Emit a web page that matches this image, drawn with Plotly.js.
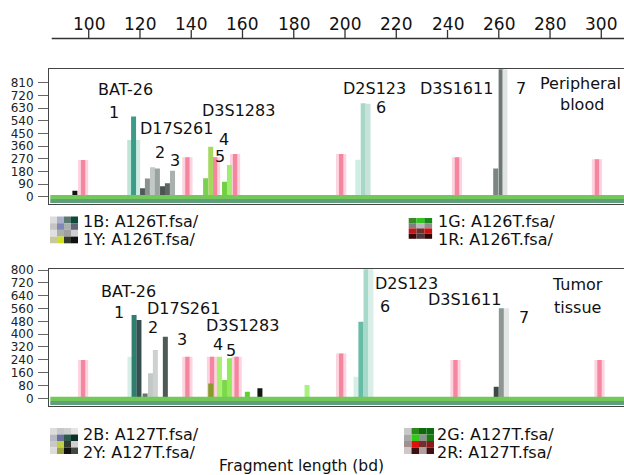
<!DOCTYPE html>
<html>
<head>
<meta charset="utf-8">
<script src="https://cdn.plot.ly/plotly-3.0.1.min.js"></script>
<style>html,body{margin:0;padding:0;background:#fff;}#chart{width:624px;height:475px;}</style>
</head>
<body>
<div id="chart"></div>
<script>
// ---------- data ----------
const topTicks = [100, 120, 140, 160, 180, 200, 220, 240, 260, 280, 300];
const yTicks1 = [0, 90, 180, 270, 360, 450, 540, 630, 720, 810];
const yTicks2 = [0, 80, 160, 240, 320, 400, 480, 560, 640, 720, 800];

// Panel 1: Peripheral blood (fragment length bp, height RFU)
const pinkBp1 = [97.8, 138.5, 149.3, 157.1, 198.5, 243.7, 298.3];
const pinkH1  = [261, 280, 280, 303, 303, 280, 266];
const tealLightBp1 = [116.0, 119.1, 205.0, 207.1, 209.0];
const tealLightH1  = [403, 403, 263, 664, 660];
const tealDarkBp1 = [117.5];
const tealDarkH1  = [569];
const grayBp1 = [121.0, 122.9, 124.9, 126.8, 128.8, 130.7, 132.7, 258.8, 260.9, 262.4];
const grayH1  = [60, 130, 210, 200, 75, 95, 185, 200, 950, 950];
const greenBp1 = [145.6, 147.6, 153.0, 154.9];
const greenH1  = [131, 355, 107, 225];
const blackBp1 = [94.6];
const blackH1  = [42];

// Panel 2: Tumor tissue
const pinkBp2 = [97.8, 138.5, 148.1, 157.7, 198.5, 243.1, 299.3];
const pinkH2  = [239, 259, 259, 259, 280, 239, 239];
const tealLightBp2 = [116.1, 204.3, 208.2, 210.1];
const tealLightH2  = [259, 135, 830, 830];
const tealDarkBp2 = [117.7, 206.2];
const tealDarkH2  = [520, 478];
const grayBp2 = [119.6, 122.0, 124.1, 126.0, 129.9, 259.0, 261.0, 263.0];
const grayH2  = [488, 30, 156, 301, 384, 72, 561, 561];
const greenBp2 = [147.6, 151.0, 153.0, 154.9, 161.9, 185.2];
const greenH2  = [93, 259, 114, 249, 41, 83];
const blackBp2 = [166.8];
const blackH2  = [62];

const labels1 = ["BAT-26", "1", "D17S261", "2", "3", "D3S1283", "4", "5", "D2S123", "6", "D3S1611", "7", "Peripheral", "blood"];
const labels2 = ["BAT-26", "1", "D17S261", "2", "3", "D3S1283", "4", "5", "D2S123", "6", "D3S1611", "7", "Tumor", "tissue"];
const legendTexts = ["1B: A126T.fsa/", "1Y: A126T.fsa/", "1G: A126T.fsa/", "1R: A126T.fsa/",
                     "2B: A127T.fsa/", "2Y: A127T.fsa/", "2G: A127T.fsa/", "2R: A127T.fsa/"];
const xTitle = "Fragment length (bd)";

// ---------- styling / layout helpers ----------
const W = 624, H = 475;
const px = x => x / W;
const py = y => 1 - y / H;
const FONT = "DejaVu Sans, Verdana, sans-serif";
const COL = 1.95;
const TXT_DY = 1.5;   // glyph-centre vs text-box-centre correction

function bars(x, y, width, color, ax) {
  return {type: 'bar', x: x, y: y, width: width, xaxis: 'x' + ax, yaxis: 'y' + ax,
          marker: {color: color, line: {width: 0}}, showlegend: false, hoverinfo: 'skip'};
}
function panelTraces(ax, d, c) {
  return [
    bars(d.pinkBp, d.pinkH, 4.0, '#fcd3de', ax),
    bars(d.pinkBp, d.pinkH, 1.7, '#f4879f', ax),
    bars(d.tealLightBp, d.tealLightH, COL, c.tealLight, ax),
    bars(d.tealDarkBp, d.tealDarkH, COL, c.tealDark, ax),
    bars(d.grayBp, d.grayH, COL, c.gray, ax),
    bars(d.greenBp, d.greenH, COL, c.green, ax),
    bars(d.blackBp, d.blackH, COL, '#101810', ax)
  ];
}
const traces = [].concat(
  panelTraces('', {pinkBp: pinkBp1, pinkH: pinkH1, tealLightBp: tealLightBp1, tealLightH: tealLightH1,
    tealDarkBp: tealDarkBp1, tealDarkH: tealDarkH1, grayBp: grayBp1, grayH: grayH1,
    greenBp: greenBp1, greenH: greenH1, blackBp: blackBp1, blackH: blackH1},
    {tealLight: ['#bfe5d8', '#cfeae1', '#cdeee2', '#a8d7c7', '#c7e2da'], tealDark: ['#3c9c88'],
     gray: ['#4f5a58', '#8a9290', '#c2c8c6', '#9aa3a1', '#4a5553', '#5d6866', '#a9b0ae', '#7b8584', '#6d7776', '#dfe4e2'],
     green: ['#7bd054', '#a6d860', '#6fd040', '#a0ee70']}),
  panelTraces('2', {pinkBp: pinkBp2, pinkH: pinkH2, tealLightBp: tealLightBp2, tealLightH: tealLightH2,
    tealDarkBp: tealDarkBp2, tealDarkH: tealDarkH2, grayBp: grayBp2, grayH: grayH2,
    greenBp: greenBp2, greenH: greenH2, blackBp: blackBp2, blackH: blackH2},
    {tealLight: ['#d5efe6', '#d5efe6', '#a6d9c9', '#d8efe8'], tealDark: ['#2f7f70', '#66bca6'],
     gray: ['#35504e', '#6a7270', '#c4c9c7', '#cdd1cf', '#4e5a58', '#3c4a46', '#8e9694', '#e2e6e4'],
     green: ['#8a9a2a', '#a8f070', '#7cd84a', '#90ea5a', '#60d030', '#a8f080']})
);

const xRange = [84.5, 308.86];
const baseX = {range: xRange, domain: [px(49), 1], showline: true, mirror: true, linecolor: '#444',
               linewidth: 1, ticks: '', showticklabels: false, showgrid: false, zeroline: false, fixedrange: true};
const baseY = {showline: true, linecolor: '#444', linewidth: 1, ticks: 'outside', ticklen: 10,
               tickcolor: '#666', tickwidth: 1, tickfont: {family: FONT, size: 12, color: '#222'},
               showgrid: false, zeroline: false, fixedrange: true, ticklabelstandoff: 2};

const annotations = [];
function txt(t, x, y, size, anchor) {
  annotations.push({text: t, x: px(x), y: py(y + TXT_DY), xref: 'paper', yref: 'paper', showarrow: false,
    xanchor: anchor || 'center', yanchor: 'middle', font: {family: FONT, size: size || 16, color: '#111'}});
}
const pos1 = [[125.8, 88.3], [114, 110.7], [176.3, 126.7], [160.5, 151], [175, 159.3], [238, 109.3],
              [224, 138.3], [219.5, 155], [374, 86.7], [380.5, 106], [456, 86.7], [520.5, 87.3],
              [580.3, 81.7], [581.5, 103.3]];
const pos2 = [[128.5, 290], [119, 311], [183, 306.7], [152.5, 325.7], [181.7, 338.3], [242.5, 323.5],
              [217.5, 342.5], [230.5, 349.3], [406, 282.3], [384.5, 305], [464.5, 297.7], [524, 316],
              [577.7, 283.3], [577.7, 306]];
labels1.forEach((t, i) => txt(t, pos1[i][0], pos1[i][1]));
labels2.forEach((t, i) => txt(t, pos2[i][0], pos2[i][1]));
const legPos = [[81, 219.5], [81, 237.5], [436, 219.5], [436, 237.5], [81, 433], [81, 451], [435, 433], [435, 451]];
legendTexts.forEach((t, i) => txt(t, legPos[i][0], legPos[i][1], 16, 'left'));
txt(xTitle, 301.5, 464, 15.5);

// top ruler (same bp scale as the panels' x axis): labels + line + ticks
const RULER_Y = 38.5;
topTicks.forEach(v => annotations.push({text: String(v), x: v, xref: 'x', y: py(21.7 + TXT_DY + 0.5), yref: 'paper',
  showarrow: false, xanchor: 'center', yanchor: 'middle', font: {family: FONT, size: 17, color: '#111'}}));

const shapes = [];
shapes.push({type: 'line', xref: 'paper', yref: 'paper', x0: px(51.7), x1: 1, y0: py(RULER_Y), y1: py(RULER_Y),
             line: {color: '#333', width: 1.3}, layer: 'above'});
topTicks.forEach(v => shapes.push({type: 'line', xref: 'x', yref: 'paper', x0: v, x1: v,
             y0: py(RULER_Y), y1: py(RULER_Y - 8.5), line: {color: '#333', width: 1.3}, layer: 'above'}));

function band(ax, yTopBright, yMid, yBot) {
  shapes.push({type: 'rect', xref: 'x' + ax, yref: 'y' + ax, x0: 85.0, x1: xRange[1], y0: yMid, y1: yTopBright,
               fillcolor: '#72c95a', line: {width: 0}, layer: 'above'});
  shapes.push({type: 'rect', xref: 'x' + ax, yref: 'y' + ax, x0: 85.0, x1: xRange[1], y0: yBot, y1: yMid,
               fillcolor: '#5f9f7c', line: {width: 0}, layer: 'above'});
}
band('', 12, -16, -44);
band('2', 10, -17, -41);

function icon(x0, y0, cw, ch, grid) {
  grid.forEach((row, r) => row.forEach((c, k) => {
    shapes.push({type: 'rect', xref: 'paper', yref: 'paper', x0: px(x0 + k * cw), x1: px(x0 + (k + 1) * cw),
                 y0: py(y0 + (r + 1) * ch), y1: py(y0 + r * ch), fillcolor: c, line: {width: 0}});
  }));
}
const iconBY1 = [['#dcdcdc', '#aab0cc', '#5a7a70', '#0e4a3a'], ['#c4c4c4', '#8088b8', '#aab0b0', '#606878'],
                 ['#e0e0e0', '#a8b0a8', '#a0a0a0', '#cfcfcf'], ['#c8c8a0', '#cfe020', '#303830', '#101010']];
const iconGR1 = [['#3a8a2a', '#2ec81a', '#1a8a1a'], ['#808080', '#b8b8b8', '#909090'],
                 ['#c01818', '#6a3030', '#d01010'], ['#3a0808', '#503838', '#300808']];
const iconBY2 = [['#dcdcdc', '#c8c8c8', '#cfcfcf', '#e4e4e4'], ['#b8b8c0', '#6a70a0', '#2f5a50', '#0a3028'],
                 ['#c8c8c8', '#c0d040', '#303830', '#d0d0d0'], ['#dcdcdc', '#9aa040', '#101010', '#404840']];
const iconGR2 = [['#c8c8c8', '#2a8a1a', '#0e6a0e', '#0e6a0e'], ['#a8a8a8', '#34c81a', '#909090', '#1a7a1a'],
                 ['#a09090', '#e01010', '#703030', '#901818'], ['#d0c8c8', '#3a1010', '#b0a0a0', '#401010']];
icon(50, 216.5, 7, 6.7, iconBY1);
icon(408.7, 218, 7.8, 5.2, iconGR1);
icon(50, 428, 7, 6.5, iconBY2);
icon(404, 428, 7.5, 6.5, iconGR2);

const layout = {
  width: W, height: H, margin: {l: 0, r: 0, t: 0, b: 0}, paper_bgcolor: '#fff', plot_bgcolor: 'rgba(0,0,0,0)',
  barmode: 'overlay', showlegend: false, font: {family: FONT, color: '#111'},
  xaxis: Object.assign({}, baseX, {anchor: 'y'}),
  yaxis: Object.assign({}, baseY, {domain: [py(204), py(69.3)], range: [-51.9, 905.2], tickvals: yTicks1, anchor: 'x'}),
  xaxis2: Object.assign({}, baseX, {anchor: 'y2'}),
  yaxis2: Object.assign({}, baseY, {domain: [py(406), py(269.3)], range: [-48, 804.4], tickvals: yTicks2, anchor: 'x2'}),
  annotations: annotations, shapes: shapes
};
Plotly.newPlot('chart', traces, layout, {displayModeBar: false, staticPlot: true});
</script>
</body>
</html>
